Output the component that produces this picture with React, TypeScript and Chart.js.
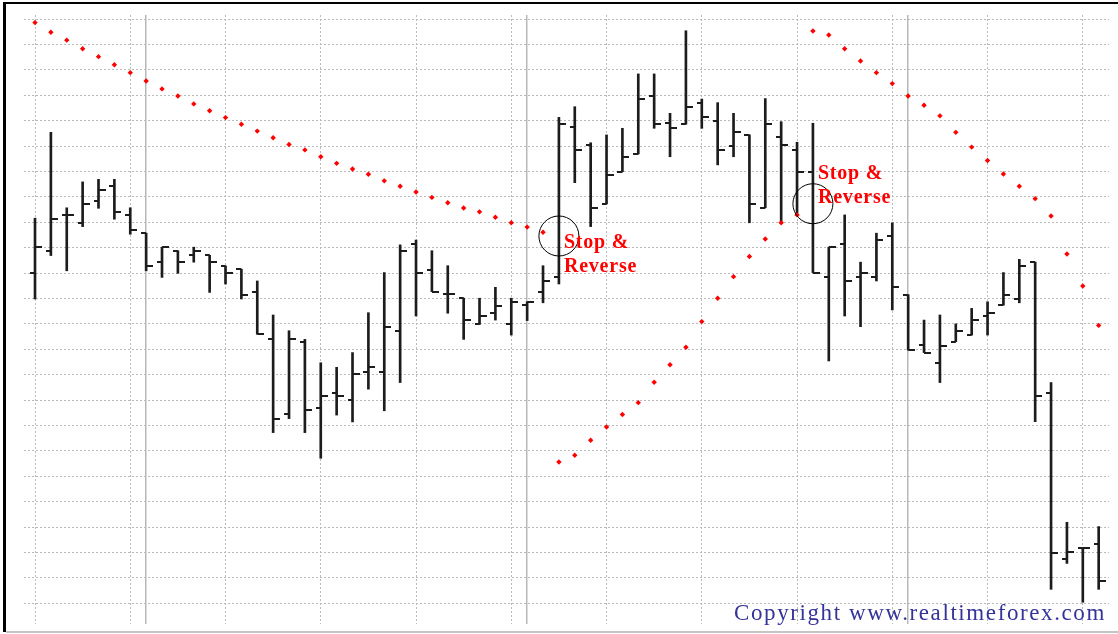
import React, { useEffect, useRef } from "react";
import { Chart, registerables } from "chart.js";

Chart.register(...registerables);

// ---- data (price units; one grid step = 10) ----
const HIGH = [
  151.6, 185.4, 155.7, 165.9, 166.9, 166.9, 155.7, 145.7, 140.2, 138.8,
  140.2, 137.0, 132.8, 131.5, 126.9, 113.5, 107.3, 103.9, 94.7, 92.9,
  98.7, 114.4, 130.2, 141.1, 143.0, 138.8, 132.9, 120.1, 120.1, 124.4,
  120.1, 118.7, 132.9, 191.3, 195.5, 181.3, 184.4, 187.0, 208.4, 208.4,
  192.9, 225.4, 198.5, 197.1, 192.9, 184.4, 198.7, 189.6, 181.5, 189.0,
  140.2, 152.9, 134.3, 145.7, 149.8, 121.5, 111.5, 113.5, 110.0, 116.1,
  118.7, 130.2, 135.4, 134.3, 86.9, 31.9, 21.7, 30.2,
];
const LOW = [
  119.8, 136.9, 130.9, 148.3, 155.5, 151.2, 145.3, 130.9, 128.3, 129.9,
  134.3, 122.4, 125.7, 119.8, 105.9, 67.2, 72.7, 67.2, 57.1, 74.1,
  71.4, 84.3, 75.8, 86.9, 113.1, 122.7, 114.2, 103.9, 109.8, 111.5,
  105.6, 111.3, 118.3, 125.7, 165.6, 148.3, 157.2, 169.9, 176.9, 187.0,
  175.8, 188.6, 187.0, 172.6, 175.8, 149.8, 155.7, 149.6, 153.5, 130.2,
  95.4, 113.1, 108.9, 126.9, 115.5, 99.7, 98.7, 86.9, 103.0, 105.6,
  105.6, 117.4, 118.3, 71.5, 5.5, 15.7, 0.4, 5.5,
];
const OPEN = [
  130.2, 138.8, 152.9, 149.8, 158.3, 164.3, 152.9, 145.7, 134.4, 138.8,
  137.0, 137.0, 132.8, 131.5, 122.7, 103.9, 74.4, 103.0, 76.9, 82.8,
  80.0, 91.2, 91.2, 107.3, 141.3, 131.2, 121.7, 120.1, 109.8, 114.2,
  109.8, 117.6, 122.7, 128.6, 187.4, 180.4, 157.2, 169.9, 176.9, 199.8,
  189.0, 188.6, 197.1, 189.9, 180.2, 184.4, 155.7, 183.7, 178.5, 169.9,
  128.6, 141.3, 128.6, 128.6, 144.6, 121.5, 101.7, 94.7, 103.0, 105.6,
  113.2, 117.4, 119.8, 134.3, 82.9, 17.6, 21.7, 23.2,
];
const CLOSE = [
  140.2, 151.4, 152.9, 157.3, 162.6, 154.2, 147.1, 132.8, 140.2, 134.4,
  138.8, 134.4, 130.2, 121.5, 105.9, 72.7, 104.1, 76.0, 81.7, 81.7,
  90.2, 92.9, 108.9, 138.8, 130.2, 122.7, 121.7, 111.5, 113.1, 117.2,
  118.6, 118.7, 126.9, 188.7, 178.5, 155.6, 168.5, 175.8, 198.7, 188.6,
  187.2, 195.5, 191.3, 178.5, 185.4, 157.3, 188.7, 180.6, 169.9, 130.2,
  140.2, 126.9, 130.2, 143.0, 124.4, 99.7, 98.7, 101.4, 107.3, 111.7,
  114.2, 121.5, 132.8, 81.6, 19.9, 20.0, 21.7, 8.9,
];
const SAR = [
  228.6, 224.8, 221.7, 218.3, 215.2, 212.0, 208.9, 205.6, 202.5, 199.7,
  196.6, 193.9, 191.2, 188.6, 185.9, 183.3, 180.6, 178.5, 175.8, 173.2,
  171.0, 168.9, 166.3, 164.2, 161.9, 159.8, 157.7, 155.6, 154.1, 152.0,
  149.8, 148.1, 146.1, 55.6, 58.3, 64.2, 69.4, 74.3, 79.0, 87.0,
  93.9, 100.8, 110.9, 120.1, 128.6, 136.5, 143.4, 149.8, 152.9, 225.3,
  223.7, 218.3, 213.5, 208.9, 204.6, 199.7, 196.1, 191.9, 185.4, 179.6,
  174.3, 169.0, 164.2, 159.3, 152.5, 137.5, 124.9, 109.4,
];

const PRICE_GRID = [
  0, 10, 20, 30, 40, 50, 60, 70, 80, 90, 100, 110, 120, 130, 140, 150,
  160, 170, 180, 190, 200, 210, 220, 230,
];
const BAR_GRID = [0, 6, 12, 18, 24, 30, 36, 42, 48, 54, 60, 66];
const SESSION_BREAKS = [7, 31, 55];

const SIGNAL_BARS = [33, 49];
const SIGNAL_CIRCLE_PRICE = [144.6, 157.3];
const SIGNAL_TEXT_PRICE = [139.9, 167.0];
const SIGNAL_LINES = ["Stop &", "Reverse"];
const COPYRIGHT = "Copyright www.realtimeforex.com";

const W = 1118;
const H = 634;

function tickImage(side: "left" | "right", len: number): HTMLCanvasElement {
  const c = document.createElement("canvas");
  c.width = len * 2;
  c.height = 2;
  const g = c.getContext("2d")!;
  g.fillStyle = "#1c1c1c";
  if (side === "left") g.fillRect(0, 0, len, 2);
  else g.fillRect(len, 0, len, 2);
  return c;
}

const decorPlugin = {
  id: "decor",
  beforeDraw(chart: any) {
    const ctx = chart.ctx;
    ctx.save();
    ctx.fillStyle = "#ffffff";
    ctx.fillRect(0, 0, W, H);
    ctx.fillStyle = "#000000";
    ctx.fillRect(3, 2, W - 3, 2);
    ctx.fillRect(3, 2, 3, 630);
    ctx.fillStyle = "#c4c4c4";
    ctx.fillRect(6, 631, W - 6, 2);
    ctx.restore();
  },
  afterDatasetsDraw(chart: any) {
    const ctx = chart.ctx;
    const xs = chart.scales.x;
    const ys = chart.scales.y;
    ctx.save();
    ctx.font = 'bold 20px "Liberation Serif"';
    (ctx as any).letterSpacing = "0.8px";
    ctx.fillStyle = "#ff0000";
    ctx.textBaseline = "alphabetic";
    SIGNAL_BARS.forEach((b, k) => {
      const px = xs.getPixelForValue(b) + 5;
      const py = ys.getPixelForValue(SIGNAL_TEXT_PRICE[k]);
      SIGNAL_LINES.forEach((t, j) => ctx.fillText(t, px, py + j * 24));
    });
    ctx.font = '23px "Liberation Serif"';
    (ctx as any).letterSpacing = "1.6px";
    ctx.fillStyle = "#33339a";
    ctx.fillText(COPYRIGHT, 734, 620);
    ctx.restore();
  },
};

export default function App() {
  const ref = useRef<HTMLCanvasElement | null>(null);

  useEffect(() => {
    if (!ref.current) return;
    const openImg = tickImage("left", 5);
    const closeImg = tickImage("right", 7);
    const idx = HIGH.map((_, i) => i);

    const chart = new Chart(ref.current, {
      type: "scatter",
      data: {
        datasets: [
          {
            type: "scatter",
            data: SIGNAL_BARS.map((b, k) => ({ x: b, y: SIGNAL_CIRCLE_PRICE[k] })),
            pointStyle: "circle",
            pointRadius: 20,
            pointBackgroundColor: "rgba(0,0,0,0)",
            pointBorderColor: "#000000",
            pointBorderWidth: 1,
          } as any,
          {
            type: "scatter",
            data: idx.map((i) => ({ x: i, y: SAR[i] })),
            pointStyle: "rectRot",
            pointRadius: 2.7,
            pointBackgroundColor: "#ff0000",
            pointBorderWidth: 0,
          } as any,
          {
            type: "scatter",
            data: idx.map((i) => ({ x: i, y: OPEN[i] })),
            pointStyle: openImg,
            pointRadius: 3,
          } as any,
          {
            type: "scatter",
            data: idx.map((i) => ({ x: i, y: CLOSE[i] })),
            pointStyle: closeImg,
            pointRadius: 3,
          } as any,
          {
            type: "bar",
            data: idx.map((i) => ({ x: i, y: [LOW[i], HIGH[i]] })),
            backgroundColor: "#1c1c1c",
            borderWidth: 0,
            barThickness: 2,
            grouped: false,
          } as any,
        ],
      },
      options: {
        animation: false,
        responsive: false,
        devicePixelRatio: 1,
        events: [],
        layout: { autoPadding: false, padding: { left: 24, top: 15, right: 9, bottom: 10 } },
        plugins: { legend: { display: false }, tooltip: { enabled: false } },
        scales: {
          x: {
            type: "linear",
            min: -0.693,
            max: 67.65,
            offset: false,
            ticks: { display: false },
            grid: { color: "#bababa", lineWidth: 1, drawTicks: false, offset: false },
            border: { display: false, dash: [2, 2] },
            afterBuildTicks: (s: any) => {
              s.ticks = BAR_GRID.map((v) => ({ value: v }));
            },
            afterFit: (s: any) => {
              s.height = 0;
            },
          },
          x2: {
            type: "linear",
            position: "bottom",
            min: -0.693,
            max: 67.65,
            offset: false,
            ticks: { display: false },
            grid: { color: "#b8b8b8", lineWidth: 1.5, drawTicks: false, offset: false },
            border: { display: false },
            afterBuildTicks: (s: any) => {
              s.ticks = SESSION_BREAKS.map((v) => ({ value: v }));
            },
            afterFit: (s: any) => {
              s.height = 0;
            },
          },
          y: {
            type: "linear",
            min: -8.15,
            max: 231.6,
            ticks: { display: false },
            grid: { color: "#bababa", lineWidth: 1, drawTicks: false },
            border: { display: false, dash: [2, 2] },
            afterBuildTicks: (s: any) => {
              s.ticks = PRICE_GRID.map((v) => ({ value: v }));
            },
            afterFit: (s: any) => {
              s.width = 0;
            },
          },
        },
      } as any,
      plugins: [decorPlugin],
    });
    return () => chart.destroy();
  }, []);

  return (
    <div style={{ position: "fixed", left: 0, top: 0, width: W, height: H, background: "#fff" }}>
      <canvas ref={ref} width={W} height={H} style={{ width: W, height: H, display: "block" }} />
    </div>
  );
}
